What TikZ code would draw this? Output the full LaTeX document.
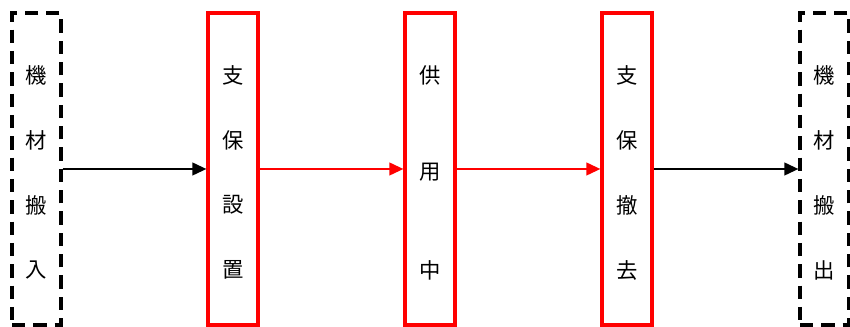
\documentclass[tikz,border=0pt]{standalone}
\usepackage{fontspec}
\newfontfamily\cjk{Noto Sans CJK JP}
\usetikzlibrary{arrows.meta}
\begin{document}
\begin{tikzpicture}[x=0.75pt,y=-0.75pt,
  dashbox/.style={draw=black,line width=2.4pt,dash pattern=on 10pt off 6pt,minimum width=36.75pt,minimum height=234pt,inner sep=0pt},
  redbox/.style={draw=red,line width=2.4pt,minimum width=37.5pt,minimum height=234pt,inner sep=0pt},
  lbl/.style={font=\cjk\fontsize{16pt}{19pt}\selectfont,inner sep=0pt},
  blk/.style={draw=black,line width=1.5pt,-{Triangle[length=10.5pt,width=9.5pt]}},
  rdarr/.style={draw=red,line width=1.5pt,-{Triangle[length=10.5pt,width=9.5pt]}}]
\useasboundingbox (0,0) rectangle (850,327);
\node[dashbox] (a) at (36.5,169) {};
\node[redbox] (b) at (233,169) {};
\node[redbox] (c) at (430,169) {};
\node[redbox] (d) at (627,169) {};
\node[dashbox] (e) at (824.5,169) {};
% labels
\foreach \t [count=\i] in {機,材,搬,入} \node[lbl] (a\i) at (36.5,10+65*\i) {\t};
\foreach \t [count=\i] in {支,保,設,置} \node[lbl] (b\i) at (233,10+65*\i) {\t};
\foreach \t [count=\i] in {供,用,中} \node[lbl] (c\i) at (430,-22.5+97.5*\i) {\t};
\foreach \t [count=\i] in {支,保,撤,去} \node[lbl] (d\i) at (627,10+65*\i) {\t};
\foreach \t [count=\i] in {機,材,搬,出} \node[lbl] (e\i) at (824.5,10+65*\i) {\t};
\draw[blk] (a.east) -- (b.west);
\draw[rdarr] (b.east) -- (c.west);
\draw[rdarr] (c.east) -- (d.west);
\draw[blk] (d.east) -- (e.west);
\end{tikzpicture}
\end{document}
